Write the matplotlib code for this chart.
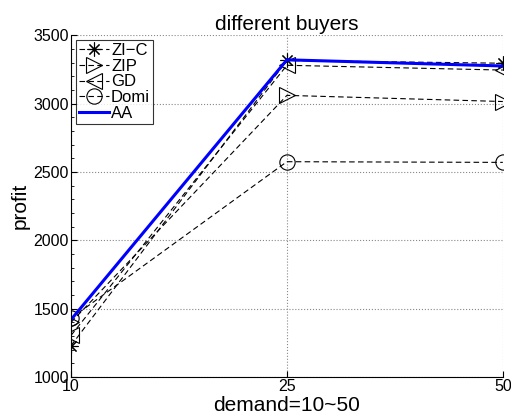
import matplotlib
matplotlib.use("Agg")
import matplotlib.pyplot as plt
from matplotlib.ticker import AutoMinorLocator

plt.rcParams['font.family'] = ['Liberation Sans', 'DejaVu Sans']

# data
demand = ["10", "25", "50"]
zic = [1230, 3315, 3295]
zip_ = [1400, 3060, 3015]
gd = [1305, 3280, 3245]
domi = [1430, 2575, 2570]
aa = [1420, 3320, 3275]

xs = list(range(len(demand)))

fig = plt.figure(figsize=(5.11, 4.19), dpi=100)
ax = fig.add_axes([0.139, 0.10, 0.845, 0.816])

dash = (0, (5, 3))
ax.plot(xs, zic, linestyle=dash, color="black", lw=0.8,
        marker=(8, 2, 0), markersize=10, markeredgewidth=0.8, label="ZI\u2212C")
ax.plot(xs, zip_, linestyle=dash, color="black", lw=0.8,
        marker=">", markersize=11, fillstyle="none", markeredgewidth=0.8, label="ZIP")
ax.plot(xs, gd, linestyle=dash, color="black", lw=0.8,
        marker="<", markersize=11, fillstyle="none", markeredgewidth=0.8, label="GD")
ax.plot(xs, domi, linestyle=dash, color="black", lw=0.8,
        marker="o", markersize=11, fillstyle="none", markeredgewidth=0.8, label="Domi")
ax.plot(xs, aa, linestyle="-", color="#0000ff", lw=2.2, label="AA")

ax.set_xlim(0, len(demand) - 1)
ax.set_ylim(1000, 3500)
ax.set_xticks(xs)
ax.set_xticklabels(demand)
ax.set_yticks([1000, 1500, 2000, 2500, 3000, 3500])
ax.yaxis.set_minor_locator(AutoMinorLocator(5))
ax.tick_params(axis="both", labelsize=11.5, direction="in", length=4, pad=1.5)
ax.tick_params(axis="y", which="minor", direction="in", length=2)

ax.grid(True, linestyle=":", color="#888888", lw=0.8)
ax.spines["top"].set_visible(False)
ax.spines["right"].set_visible(False)

ax.set_title("different buyers", fontsize=15, pad=4)
ax.set_xlabel("demand=10~50", fontsize=15, labelpad=1.5)
ax.set_ylabel("profit", fontsize=15, labelpad=3)

leg = ax.legend(loc="upper left", fontsize=12, handlelength=1.8,
                handletextpad=0.15, borderpad=0.15, labelspacing=0.05,
                fancybox=False, edgecolor="black", borderaxespad=0.3)
leg.get_frame().set_linewidth(0.8)

fig.savefig("out.png", dpi=100)
